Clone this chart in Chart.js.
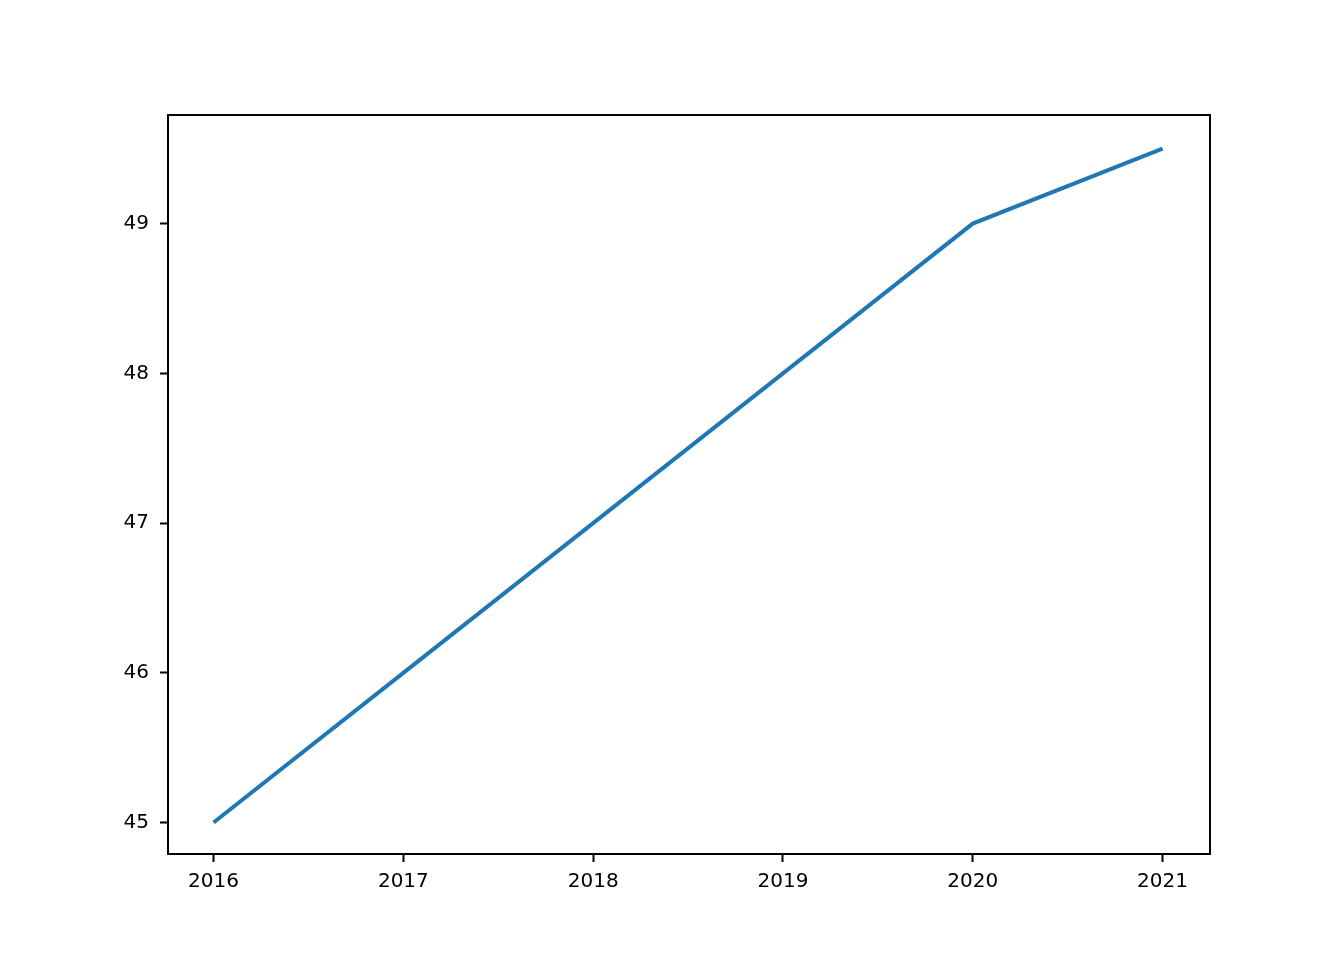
<!DOCTYPE html>
<html>
<head>
<meta charset="utf-8">
<script src="https://cdn.jsdelivr.net/npm/chart.js@4"></script>
<style>
  html, body { margin: 0; padding: 0; background: #fff; }
  #wrap { width: 1344px; height: 960px; position: relative; }
</style>
</head>
<body>
<div id="wrap"><canvas id="chart"></canvas></div>
<script>
// data
const years = [2016, 2017, 2018, 2019, 2020, 2021];
const values = [45, 46, 47, 48, 49, 49.5];
const xTicks = [2016, 2017, 2018, 2019, 2020, 2021];
const yTicks = [45, 46, 47, 48, 49];

//options
const LINE_COLOR = '#1f77b4';
const FONT = { family: 'DejaVu Sans', size: 20 };

// draws the full box around the plot area
const frame = {
  id: 'frame',
  afterDraw(chart) {
    const a = chart.chartArea;
    const ctx = chart.ctx;
    ctx.save();
    ctx.strokeStyle = '#000';
    ctx.lineWidth = 2;
    ctx.strokeRect(a.left, a.top, a.right - a.left, a.bottom - a.top);
    ctx.restore();
  },
};

new Chart(document.getElementById('chart'), {
  type: 'line',
  data: {
    datasets: [
      {
        data: years.map((y, i) => ({ x: y, y: values[i] })),
        borderColor: LINE_COLOR,
        borderWidth: 4,
        pointRadius: 0,
        fill: false,
        tension: 0,
      },
    ],
  },
  options: {
    responsive: true,
    maintainAspectRatio: false,
    animation: false,
    layout: { padding: { top: 115, right: 134, left: 0, bottom: 0 } },
    scales: {
      x: {
        type: 'linear',
        min: 2015.76,
        max: 2021.25,
        afterBuildTicks: (scale) => { scale.ticks = xTicks.map((v) => ({ value: v })); },
        afterFit: (scale) => { scale.height = 106; },
        ticks: { color: '#000', font: FONT, padding: 8, maxRotation: 0, callback: (v) => String(v) },
        grid: { drawOnChartArea: false, drawTicks: true, tickLength: 8, color: '#000', tickWidth: 2 },
        border: { display: true, color: '#000', width: 2 },
      },
      y: {
        min: 44.79,
        max: 49.725,
        afterBuildTicks: (scale) => { scale.ticks = yTicks.map((v) => ({ value: v })); },
        afterFit: (scale) => { scale.width = 168; },
        ticks: { color: '#000', font: FONT, padding: 11, callback: (v) => String(v) },
        grid: { drawOnChartArea: false, drawTicks: true, tickLength: 8, color: '#000', tickWidth: 2 },
        border: { display: true, color: '#000', width: 2 },
      },
    },
    plugins: {
      legend: { display: false },
      tooltip: { enabled: false },
    },
  },
  plugins: [frame],
});
</script>
</body>
</html>
